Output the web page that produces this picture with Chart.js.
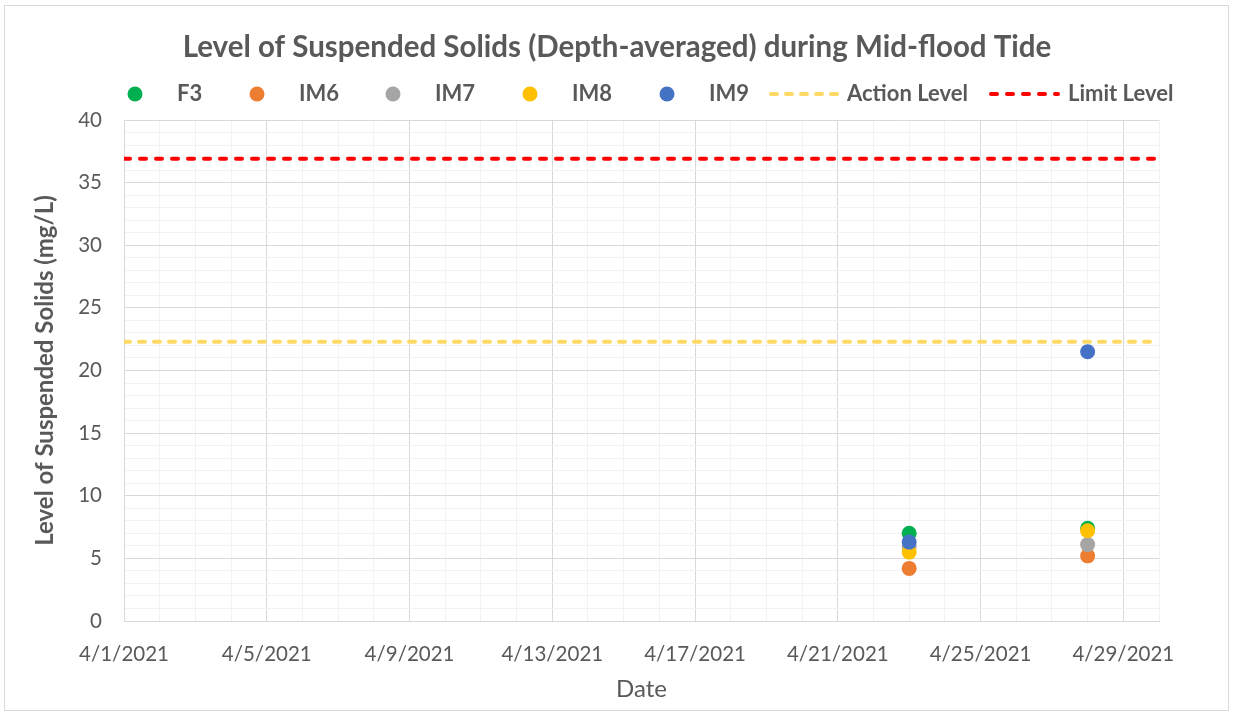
<!DOCTYPE html>
<html><head><meta charset="utf-8">
<script src="https://cdn.jsdelivr.net/npm/chart.js@4.4.1/dist/chart.umd.min.js"></script>
<style>html,body{margin:0;padding:0;background:#fff}canvas{display:block}</style>
</head><body><canvas id="c" width="1233" height="715"></canvas>
<script>
const chartTitle = 'Level of Suspended Solids (Depth-averaged) during Mid-flood Tide';
const yAxisTitle = 'Level of Suspended Solids (mg/L)';
const xAxisTitle = 'Date';
const startDate = '2021-04-01';
const endDate = '2021-04-30';
const sampleDates = ['2021-04-23', '2021-04-28'];
const stations = ['F3', 'IM6', 'IM7', 'IM8', 'IM9'];
const F3 = [7.0, 7.4];
const IM6 = [4.2, 5.2];
const IM7 = [5.9, 6.1];
const IM8 = [5.5, 7.2];
const IM9 = [6.3, 21.5];
const actionLevel = 22.3;
const limitLevel = 36.9;
const xTickLabels = ['4/1/2021','4/5/2021','4/9/2021','4/13/2021','4/17/2021','4/21/2021','4/25/2021','4/29/2021'];
const yTickLabels = ['0','5','10','15','20','25','30','35','40'];

const stationValues = [F3, IM6, IM7, IM8, IM9];
const stationColors = ['#00B050', '#ED7D31', '#A5A5A5', '#FFC000', '#4472C4'];
const FONT = 'Lato';
const TXT = '#595959';

function dayIndex(s) {
  const [y, m, d] = s.split('-').map(Number);
  const [y0, m0, d0] = startDate.split('-').map(Number);
  return (Date.UTC(y, m - 1, d) - Date.UTC(y0, m0 - 1, d0)) / 86400000;
}
const xMin = dayIndex(startDate), xMax = dayIndex(endDate);

const datasets = stations.map((name, i) => ({
  type: 'scatter',
  label: name,
  data: sampleDates.map((d, j) => ({x: dayIndex(d), y: stationValues[i][j]})),
  backgroundColor: stationColors[i],
  borderColor: stationColors[i],
  pointRadius: 7.5,
  pointHoverRadius: 7.5,
  borderWidth: 0,
  order: stations.length - i
}));
datasets.push({
  type: 'line', label: 'Action Level',
  data: [{x: xMin, y: actionLevel}, {x: xMax, y: actionLevel}],
  borderColor: '#FFD966', borderWidth: 4, borderDash: [6, 9], borderCapStyle: 'round',
  pointRadius: 0, fill: false, order: 10
});
datasets.push({
  type: 'line', label: 'Limit Level',
  data: [{x: xMin, y: limitLevel}, {x: xMax, y: limitLevel}],
  borderColor: '#FF0000', borderWidth: 4, borderDash: [6, 10], borderCapStyle: 'round',
  pointRadius: 0, fill: false, order: 11
});

const decor = {
  id: 'decor',
  beforeDraw(chart) {
    const ctx = chart.ctx;
    ctx.save();
    ctx.fillStyle = '#fff';
    ctx.fillRect(0, 0, chart.width, chart.height);
    ctx.strokeStyle = '#D9D9D9';
    ctx.lineWidth = 1;
    ctx.strokeRect(4.5, 5.5, 1224, 705);
    ctx.restore();
  },
  afterDraw(chart) {
    const ctx = chart.ctx;
    ctx.save();
    ctx.fillStyle = TXT;
    ctx.textBaseline = 'middle';
    ctx.textAlign = 'center';
    ctx.font = 'bold 29.5px ' + FONT;
    ctx.fillText(chartTitle, 617, 47);
    // legend
    const ly = 94;
    const markerX = [135, 257, 393, 530, 667];
    const lineSeg = [[769, 839], [989, 1060]];
    ctx.font = 'bold 22px ' + FONT;
    ctx.textAlign = 'left';
    chart.data.datasets.forEach((ds, i) => {
      if (ds.type === 'scatter') {
        const mx = markerX[i];
        ctx.beginPath();
        ctx.fillStyle = ds.backgroundColor;
        ctx.arc(mx, ly, 7.5, 0, Math.PI * 2);
        ctx.fill();
        ctx.fillStyle = TXT;
        ctx.fillText(ds.label, mx + 42, ly);
      } else {
        const seg = lineSeg[i - stations.length];
        ctx.beginPath();
        ctx.strokeStyle = ds.borderColor;
        ctx.lineWidth = ds.borderWidth;
        ctx.lineCap = 'round';
        ctx.setLineDash(ds.borderDash);
        ctx.moveTo(seg[0] + 2, ly);
        ctx.lineTo(seg[1] - 2, ly);
        ctx.stroke();
        ctx.setLineDash([]);
        ctx.fillStyle = TXT;
        ctx.fillText(ds.label, seg[1] + 8, ly);
      }
    });
    ctx.restore();
  }
};

new Chart(document.getElementById('c'), {
  data: {datasets},
  options: {
    responsive: false,
    animation: false,
    layout: {padding: {top: 120, right: 74, left: 0, bottom: 0}},
    plugins: {legend: {display: false}, title: {display: false}, tooltip: {enabled: false}},
    scales: {
      x: {
        type: 'linear', min: xMin, max: xMax,
        afterFit(s) { s.height = 94; },
        ticks: {
          stepSize: 1, autoSkip: false, maxRotation: 0, padding: 21,
          color: TXT, font: {family: FONT, size: 20.5},
          callback: v => (v % 4 === 0 ? xTickLabels[v / 4] : '')
        },
        grid: {
          drawTicks: false,
          color: c => (c.tick && c.tick.value % 4 === 0 ? '#D9D9D9' : '#F2F2F2'),
          lineWidth: 1
        },
        border: {color: '#D9D9D9', width: 1},
        title: {display: true, text: xAxisTitle, color: TXT, font: {family: FONT, size: 24}, padding: {top: 0, bottom: 11}}
      },
      y: {
        type: 'linear', min: 0, max: 40,
        afterFit(s) { s.width = 124; },
        ticks: {
          stepSize: 1, autoSkip: false, padding: 22,
          color: TXT, font: {family: FONT, size: 20.5},
          callback: v => (v % 5 === 0 ? yTickLabels[v / 5] : '')
        },
        grid: {
          drawTicks: false,
          color: c => (c.tick && c.tick.value % 5 === 0 ? '#D9D9D9' : '#F2F2F2'),
          lineWidth: 1
        },
        border: {color: '#D9D9D9', width: 1},
        title: {display: true, text: yAxisTitle, color: TXT, font: {family: FONT, size: 24, weight: 'bold'}, padding: {top: 31, bottom: 0}}
      }
    }
  },
  plugins: [decor]
});
</script></body></html>
